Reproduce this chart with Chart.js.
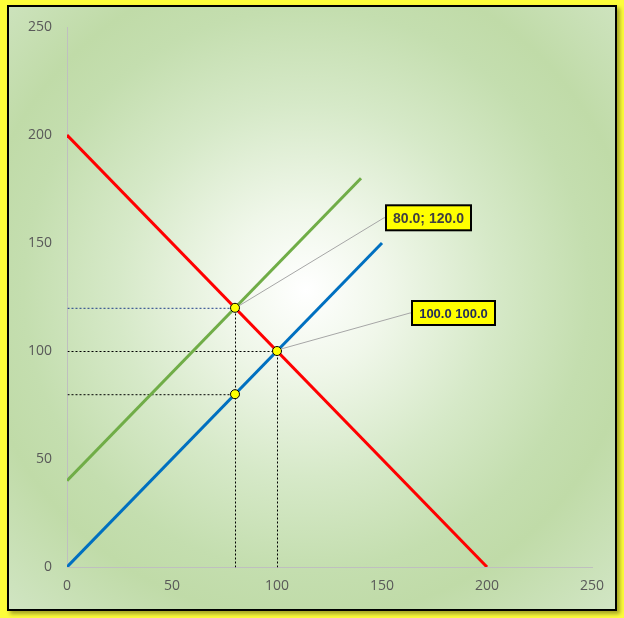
<!DOCTYPE html>
<html>
<head>
<meta charset="utf-8">
<script src="https://cdn.jsdelivr.net/npm/chart.js@4"></script>
<style>
  html, body { margin: 0; padding: 0; background: #ffff33; }
  #wrap { position: relative; width: 624px; height: 618px; overflow: hidden; background: #fdfd3a; }
  #panel {
    position: absolute; left: 7px; top: 5px; width: 606px; height: 602px;
    border: 2px solid #000;
    box-shadow: 3px 3px 4px rgba(0,0,0,0.35);
    background: radial-gradient(ellipse 74% 74% at 49% 47%, #ffffff 0%, #f0f7ea 18%, #d6e9c8 42%, #c4deaf 63%, #c0dba8 74%, #d2e6c5 100%);
  }
  #chart { position: absolute; left: 0; top: 0; }
</style>
</head>
<body>
<div id="wrap">
  <div id="panel"></div>
  <canvas id="chart" width="624" height="618"></canvas>
</div>
<script>
// lines (x, y)
const demandLine = [[0, 200], [200, 0]];
const supplyLine2 = [[0, 40], [140, 180]];
const supplyLine1 = [[0, 0], [150, 150]];
// equilibrium points
const markPoints = [[80, 120], [100, 100], [80, 80]];
// dotted guide lines
const guideBlue = [[0, 120], [80, 120]];
const guidesBlack = [
  [[0, 100], [100, 100]],
  [[0, 80], [80, 80]],
  [[80, 0], [80, 120]],
  [[100, 0], [100, 100]]
];
const labelTexts = ["80.0; 120.0", "100.0 100.0"];
const axisTicks = [0, 50, 100, 150, 200, 250];

const xy = arr => arr.map(p => ({ x: p[0], y: p[1] }));

const lineDs = (pts, color, width, dash, order) => ({
  data: xy(pts),
  showLine: true,
  borderColor: color,
  borderWidth: width,
  borderDash: dash || [],
  pointRadius: 0,
  fill: false,
  order: order,
  dotted: !!dash
});

// lower order = drawn on top
const datasets = [];
datasets.push({
  data: xy(markPoints),
  showLine: false,
  pointRadius: 4.5,
  pointBackgroundColor: "#ffff00",
  pointBorderColor: "#000000",
  pointBorderWidth: 1,
  order: 0
});
datasets.push(lineDs(demandLine, "#ff0000", 3, null, 1));
datasets.push(lineDs(supplyLine1, "#0070c0", 3, null, 2));
datasets.push(lineDs(supplyLine2, "#70ad47", 3, null, 3));
datasets.push(lineDs(guideBlue, "#1f3d8a", 1, [2, 2], 4));
guidesBlack.forEach(g => datasets.push(lineDs(g, "#000000", 1, [2, 2], 4)));

// keep 1px dotted lines crisp
const crispPlugin = {
  id: "crisp",
  beforeDatasetDraw(chart, args) {
    if (chart.data.datasets[args.index].dotted) {
      chart.ctx.save();
      chart.ctx.translate(0.5, 0.5);
    }
  },
  afterDatasetDraw(chart, args) {
    if (chart.data.datasets[args.index].dotted) chart.ctx.restore();
  }
};

const labelPlugin = {
  id: "labels",
  afterDatasetsDraw(chart) {
    const { ctx, scales } = chart;
    const boxes = [
      { pt: markPoints[0], text: labelTexts[0], dx: 151, dy: -90, w: 85, h: 25, color: "#404040", font: "bold 14px 'Liberation Sans', sans-serif" },
      { pt: markPoints[1], text: labelTexts[1], dx: 135, dy: -38, w: 83, h: 24, color: "#1f2a5c", font: "bold 13px 'Liberation Sans', sans-serif" }
    ];
    ctx.save();
    boxes.forEach(b => {
      const px = scales.x.getPixelForValue(b.pt[0]);
      const py = scales.y.getPixelForValue(b.pt[1]);
      const bx = px + b.dx, by = py + b.dy;
      ctx.strokeStyle = "#a6a6a6";
      ctx.lineWidth = 1;
      ctx.beginPath();
      ctx.moveTo(px + 4, py - 2);
      ctx.lineTo(bx - 2, by);
      ctx.lineTo(bx, by);
      ctx.stroke();
      ctx.fillStyle = "#ffff00";
      ctx.fillRect(bx, by - b.h / 2, b.w, b.h);
      ctx.strokeStyle = "#000";
      ctx.lineWidth = 2;
      ctx.strokeRect(bx, by - b.h / 2, b.w, b.h);
      ctx.fillStyle = b.color;
      ctx.font = b.font;
      ctx.textAlign = "center";
      ctx.textBaseline = "middle";
      ctx.fillText(b.text, bx + b.w / 2, by + 1);
    });
    ctx.restore();
  }
};

const tickFont = { family: "'Open Sans', sans-serif", size: 14 };

new Chart(document.getElementById("chart"), {
  type: "scatter",
  data: { datasets },
  options: {
    responsive: false,
    animation: false,
    layout: { padding: { top: 27, right: 32, left: 0, bottom: 0 } },
    plugins: { legend: { display: false }, tooltip: { enabled: false } },
    scales: {
      x: {
        type: "linear", min: 0, max: 250,
        afterBuildTicks: s => { s.ticks = axisTicks.map(v => ({ value: v })); },
        afterFit: s => { s.height = 51; },
        grid: { display: false, drawTicks: false },
        border: { display: true, color: "#bfbfbf", width: 1 },
        ticks: { color: "#595959", font: tickFont, padding: 11, maxRotation: 0 }
      },
      y: {
        type: "linear", min: 0, max: 250,
        afterBuildTicks: s => { s.ticks = axisTicks.map(v => ({ value: v })); },
        afterFit: s => { s.width = 67; },
        grid: { display: false, drawTicks: false },
        border: { display: true, color: "#bfbfbf", width: 1 },
        ticks: { color: "#595959", font: tickFont, padding: 15 }
      }
    }
  },
  plugins: [crispPlugin, labelPlugin]
});
</script>
</body>
</html>
